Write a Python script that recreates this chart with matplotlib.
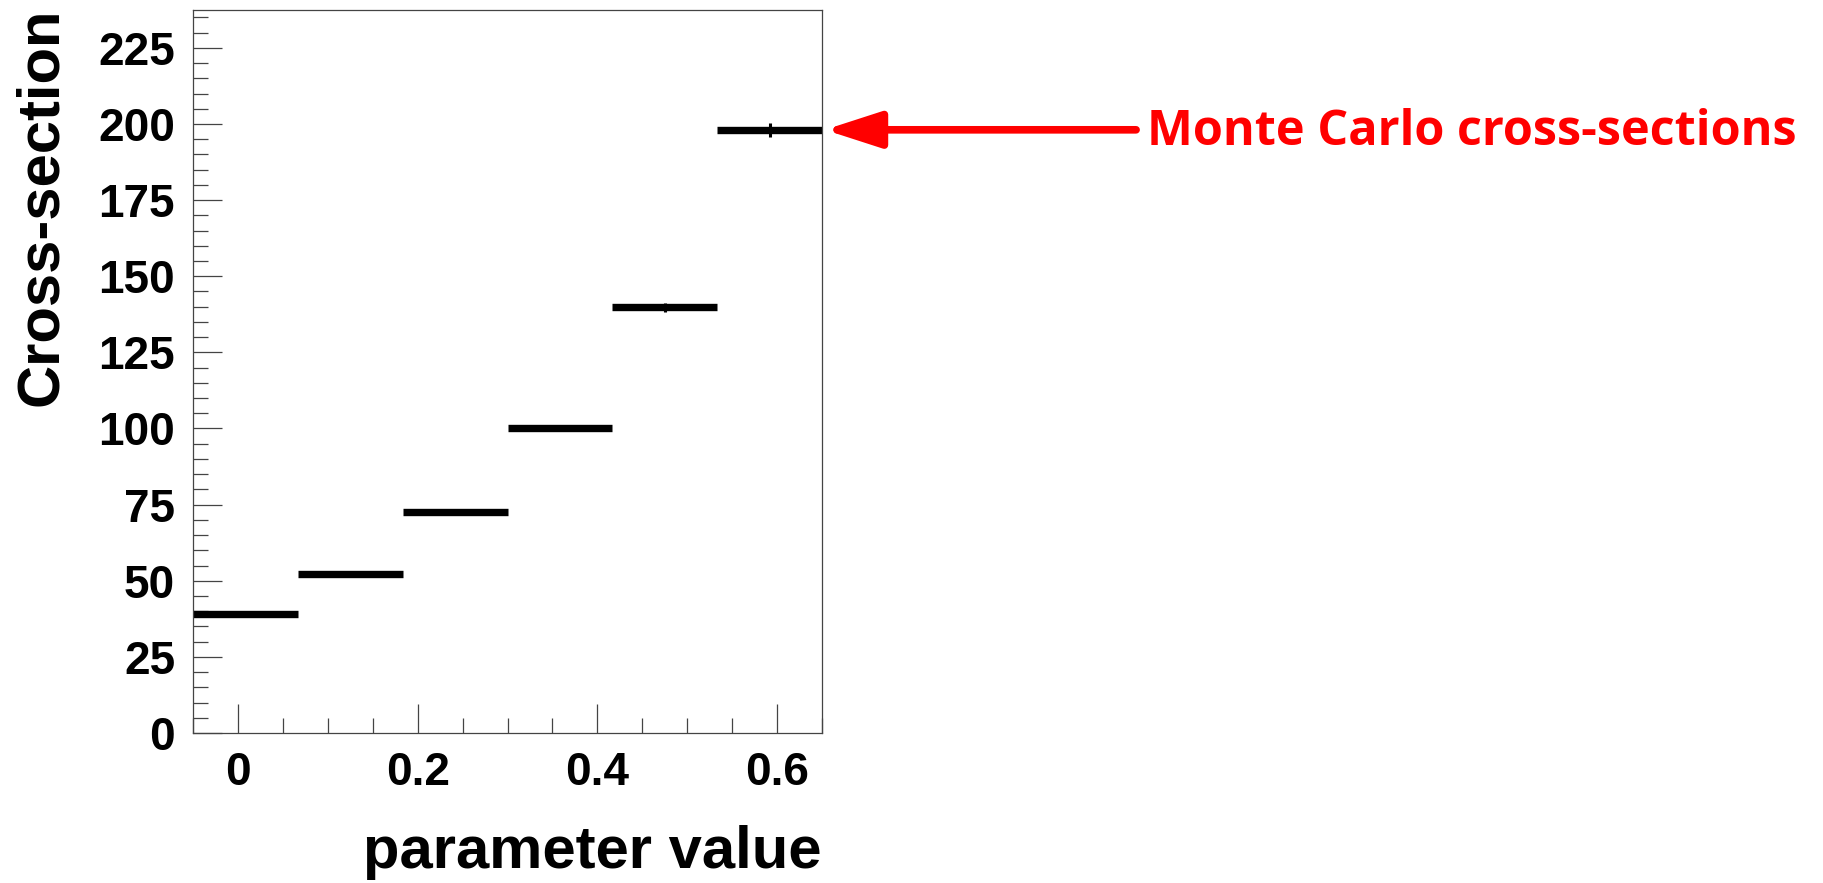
import numpy as np
import matplotlib
matplotlib.use('Agg')
import matplotlib.pyplot as plt
from matplotlib.ticker import MultipleLocator

# bin edges and Monte Carlo cross-sections
bin_lo = [-0.05, 0.0667, 0.1833, 0.3, 0.4167, 0.5333]
bin_hi = [0.0667, 0.1833, 0.3, 0.4167, 0.5333, 0.65]
xsec = [39.2, 52.1, 72.7, 100.2, 139.8, 198.1]
xsec_err = [0.6, 0.7, 0.8, 1.0, 1.4, 2.2]

plt.rcParams['font.family'] = ['Liberation Sans', 'DejaVu Sans']
plt.rcParams['font.weight'] = 'bold'

lo = np.array(bin_lo)
hi = np.array(bin_hi)
centers = (lo + hi) / 2
half = (hi - lo) / 2

fig = plt.figure(figsize=(18.23, 8.83), dpi=100)
ax = fig.add_axes([0.1059, 0.1699, 0.345, 0.8193])

# horizontal bin bars and small vertical errors
ax.errorbar(centers, xsec, xerr=half, fmt='none', ecolor='black', elinewidth=5.3, capsize=0)
ax.errorbar(centers, xsec, yerr=xsec_err, fmt='none', ecolor='black', elinewidth=2.2, capsize=0)

ax.set_xlim(-0.05, 0.65)
ax.set_ylim(0, 237.6)

ax.xaxis.set_major_locator(MultipleLocator(0.2))
ax.xaxis.set_minor_locator(MultipleLocator(0.05))
ax.yaxis.set_major_locator(MultipleLocator(25))
ax.yaxis.set_minor_locator(MultipleLocator(5))
ax.xaxis.set_major_formatter(plt.FuncFormatter(lambda v, p: '0' if abs(v) < 1e-9 else f'{v:.1f}'))

ax.tick_params(which='both', direction='in', top=False, right=False, color='#444444', width=0.9)
ax.tick_params(which='major', length=21, labelsize=33, pad=13)
ax.tick_params(which='minor', length=10.5)
for s in ax.spines.values():
    s.set_color('#444444')
    s.set_linewidth(0.9)

ax.set_xlabel('parameter value', loc='right', fontsize=43, fontweight='bold')
ax.xaxis.set_label_coords(1.0, -0.127)
ax.set_ylabel('Cross-section', loc='top', fontsize=43, fontweight='bold')
ax.yaxis.set_label_coords(-0.198, 1.003)

# red annotation arrow pointing at the last bin
ax.annotate('', xy=(1.0, xsec[-1]), xycoords=('axes fraction', 'data'),
            xytext=(0.6232, xsec[-1]), textcoords=('figure fraction', 'data'),
            arrowprops=dict(arrowstyle='-|>,head_length=34,head_width=11', mutation_scale=1,
                            lw=5.5, color='red', shrinkA=0, shrinkB=2),
            annotation_clip=False)
fig.text(1147 / 1823, 0.8358, 'Monte Carlo cross-sections', color='red',
         fontsize=35, fontweight='bold', family=['Open Sans', 'DejaVu Sans'],
         ha='left', va='baseline')

fig.savefig('out.png', dpi=100)
